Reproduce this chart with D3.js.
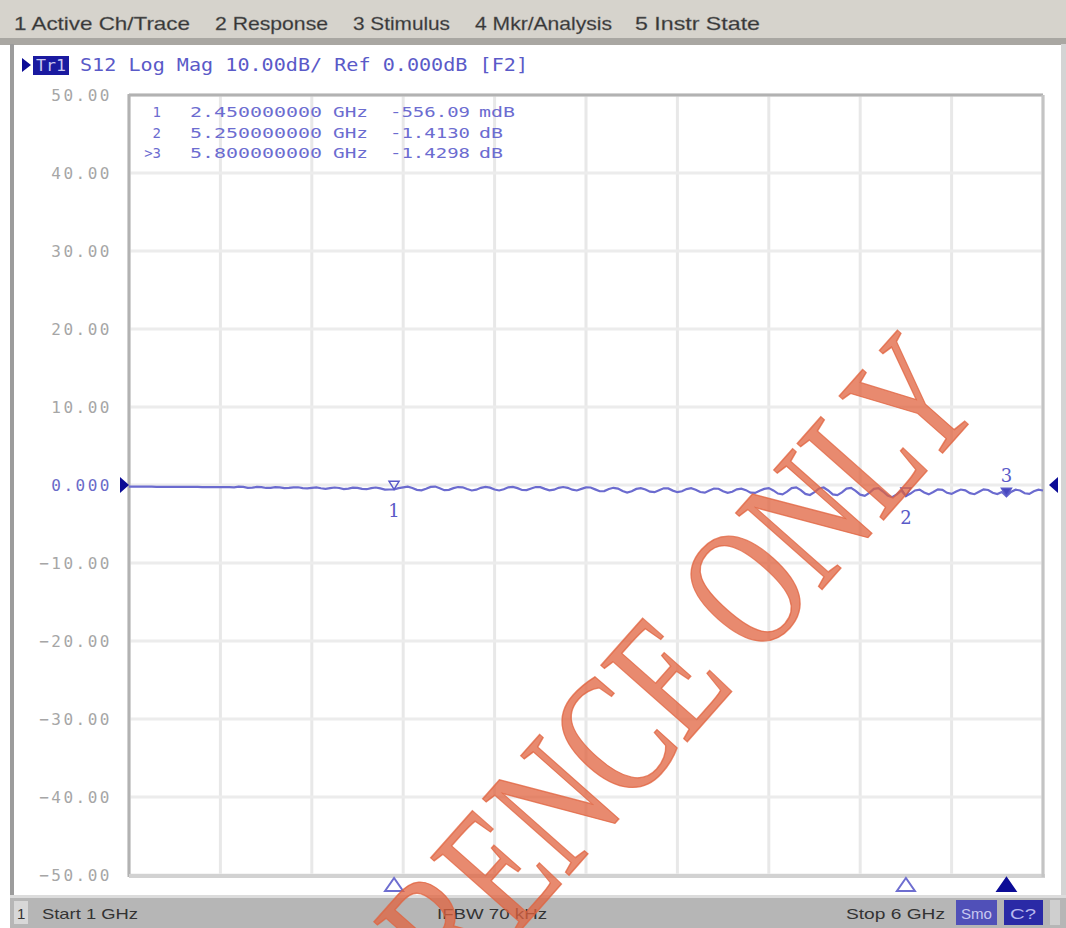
<!DOCTYPE html>
<html>
<head>
<meta charset="utf-8">
<script src="https://cdn.jsdelivr.net/npm/d3@7"></script>
<style>
  body { margin: 0; background: #fff; }
  svg { display: block; }
</style>
</head>
<body>
<script>
// S12 Log Mag, sweep 1 GHz .. 6 GHz, one value every 25 MHz
var sweepStart = 1.0, sweepStep = 0.025;
var s12 = [
  -0.20,-0.21,-0.21,-0.22,-0.22,-0.22,-0.23,-0.23,-0.23,-0.24,-0.24,-0.24,-0.25,-0.25,-0.25,-0.25,-0.26,-0.26,-0.26,-0.27,
  -0.27,-0.28,-0.28,-0.30,-0.22,-0.24,-0.36,-0.33,-0.25,-0.27,-0.38,-0.36,-0.28,-0.30,-0.40,-0.38,-0.30,-0.29,-0.40,-0.44,
  -0.36,-0.30,-0.42,-0.50,-0.40,-0.32,-0.38,-0.52,-0.46,-0.34,-0.36,-0.50,-0.54,-0.40,-0.32,-0.44,-0.60,-0.58,-0.556,-0.40,
  -0.30,-0.22,-0.38,-0.62,-0.68,-0.48,-0.24,-0.20,-0.42,-0.66,-0.62,-0.40,-0.26,-0.30,-0.52,-0.70,-0.60,-0.36,-0.24,-0.34,
  -0.58,-0.70,-0.54,-0.30,-0.24,-0.40,-0.64,-0.66,-0.44,-0.26,-0.28,-0.50,-0.68,-0.60,-0.36,-0.26,-0.36,-0.60,-0.70,-0.50,
  -0.30,-0.32,-0.56,-0.80,-0.78,-0.52,-0.36,-0.46,-0.78,-0.96,-0.80,-0.50,-0.40,-0.58,-0.86,-0.92,-0.66,-0.42,-0.44,-0.72,
  -0.92,-0.80,-0.52,-0.40,-0.60,-0.90,-0.98,-0.72,-0.46,-0.48,-0.80,-1.00,-0.86,-0.56,-0.46,-0.66,-0.98,-1.02,-0.74,-0.50,
  -0.40,-0.70,-1.10,-1.20,-0.86,-0.40,-0.30,-0.66,-1.14,-1.28,-0.92,-0.44,-0.32,-0.70,-1.20,-1.30,-0.94,-0.46,-0.36,-0.76,
  -1.24,-1.40,-1.00,-0.50,-0.40,-0.84,-1.36,-1.56,-1.20,-0.70,-1.413,-1.10,-0.70,-0.60,-0.96,-1.20,-0.90,-0.56,-0.62,-1.00,
  -1.14,-0.84,-0.58,-0.68,-1.04,-1.18,-0.86,-0.56,-0.64,-1.00,-1.16,-0.90,-1.43,-0.90,-0.60,-0.70,-1.06,-1.14,-0.80,-0.60,-0.70
];

var yTicks = [50, 40, 30, 20, 10, 0, -10, -20, -30, -40, -50];
var xTicks = [1, 1.5, 2, 2.5, 3, 3.5, 4, 4.5, 5, 5.5, 6];

// markers
var mkNames = ["1", "2", "3"];
var mkFreqs = [2.45, 5.25, 5.8];
var mkValues = [-0.556, -1.413, -1.4298];
var mkFreqText = ["2.450000000", "5.250000000", "5.800000000"];
var mkValText = ["-556.09", "-1.4130", "-1.4298"];
var mkUnitText = ["mdB", "dB", "dB"];
var activeMarker = 2;

var menuItems = ["1 Active Ch/Trace", "2 Response", "3 Stimulus", "4 Mkr/Analysis", "5 Instr State"];
var menuX = [14, 215, 353, 475, 635];
var menuW = [176, 113, 97, 137, 125];

var width = 1066, height = 928;
var plot = {left: 129, right: 1043, top: 95, bottom: 875};

var traceColor = "#6b6bcf";
var navy = "#0c0c96";

var svg = d3.select("body").append("svg")
  .attr("width", width)
  .attr("height", height);

var x = d3.scaleLinear().domain([1, 6]).range([plot.left, plot.right]);
var y = d3.scaleLinear().domain([-50, 50]).range([plot.bottom, plot.top]);

// menu bar
svg.append("rect").attr("x", 0).attr("y", 0).attr("width", width).attr("height", 41).attr("fill", "#d6d3cc");
svg.append("rect").attr("x", 0).attr("y", 38).attr("width", width).attr("height", 7).attr("fill", "#a9a7a2");
svg.selectAll("text.menu")
  .data(menuItems)
  .enter().append("text")
    .attr("class", "menu")
    .attr("x", function(d, i) { return menuX[i]; })
    .attr("y", 30)
    .attr("textLength", function(d, i) { return menuW[i]; })
    .attr("lengthAdjust", "spacingAndGlyphs")
    .attr("font-family", "Liberation Sans, Arial, sans-serif")
    .attr("font-size", 19)
    .attr("fill", "#353535")
    .attr("stroke", "#6a6a6a").attr("stroke-width", 0.3)
    .text(function(d) { return d; });

// channel window borders
svg.append("rect").attr("x", 10).attr("y", 44).attr("width", 4).attr("height", 860).attr("fill", "#9c9c9c");
svg.append("rect").attr("x", 1061).attr("y", 44).attr("width", 5).attr("height", 860).attr("fill", "#d4d4d4");

// title line
svg.append("path")
  .attr("d", "M22,58 L31,65 L22,72 Z")
  .attr("fill", navy);
svg.append("rect").attr("x", 33).attr("y", 56).attr("width", 36).attr("height", 19).attr("fill", "#1a1aa0");
svg.append("text")
  .attr("x", 36).attr("y", 71)
  .attr("textLength", 30).attr("lengthAdjust", "spacingAndGlyphs")
  .attr("font-family", "DejaVu Sans Mono, monospace").attr("font-size", 16)
  .attr("fill", "#c8c8f0")
  .text("Tr1");
svg.append("text")
  .attr("x", 80).attr("y", 71)
  .attr("textLength", 448).attr("lengthAdjust", "spacingAndGlyphs")
  .attr("font-family", "DejaVu Sans Mono, monospace").attr("font-size", 17)
  .attr("fill", "#5a5ac8")
  .text("S12 Log Mag 10.00dB/ Ref 0.000dB [F2]");

// grid
svg.selectAll("line.vgrid")
  .data(xTicks)
  .enter().append("line")
    .attr("class", "vgrid")
    .attr("x1", function(d) { return x(d); })
    .attr("x2", function(d) { return x(d); })
    .attr("y1", plot.top).attr("y2", plot.bottom)
    .attr("stroke", "#e8e8e8").attr("stroke-width", 3);

svg.selectAll("line.hgrid")
  .data(yTicks)
  .enter().append("line")
    .attr("class", "hgrid")
    .attr("x1", plot.left).attr("x2", plot.right)
    .attr("y1", function(d) { return y(d); })
    .attr("y2", function(d) { return y(d); })
    .attr("stroke", "#ececec").attr("stroke-width", 3);

// frame
svg.append("line").attr("x1", plot.left).attr("x2", plot.left).attr("y1", plot.top - 1).attr("y2", plot.bottom + 2)
  .attr("stroke", "#b2b2b2").attr("stroke-width", 3);
svg.append("line").attr("x1", plot.left).attr("x2", plot.right).attr("y1", plot.top).attr("y2", plot.top)
  .attr("stroke", "#b2b2b2").attr("stroke-width", 3);
svg.append("line").attr("x1", plot.left).attr("x2", plot.right + 2).attr("y1", plot.bottom + 1).attr("y2", plot.bottom + 1)
  .attr("stroke", "#d2d2d2").attr("stroke-width", 4);
svg.append("line").attr("x1", plot.right).attr("x2", plot.right).attr("y1", plot.top).attr("y2", plot.bottom + 2)
  .attr("stroke", "#c4c4c4").attr("stroke-width", 3);

// y tick labels
svg.selectAll("text.ylab")
  .data(yTicks)
  .enter().append("text")
    .attr("class", "ylab")
    .attr("x", 112)
    .attr("y", function(d) { return y(d) + 6; })
    .attr("text-anchor", "end")
    .attr("font-family", "DejaVu Sans Mono, monospace")
    .attr("font-size", 16)
    .attr("letter-spacing", 2.5)
    .attr("fill", function(d) { return d === 0 ? "#6a6ac8" : "#a6a6a6"; })
    .text(function(d) { return d === 0 ? "0.000" : d3.format(".2f")(d); });

// reference level arrows
svg.append("path")
  .attr("d", "M120," + (y(0) - 8) + " L129," + y(0) + " L120," + (y(0) + 8) + " Z")
  .attr("fill", navy);
svg.append("path")
  .attr("d", "M1058," + (y(0) - 8) + " L1049," + y(0) + " L1058," + (y(0) + 8) + " Z")
  .attr("fill", navy);

// marker readout
var rows = svg.append("g").attr("font-family", "DejaVu Sans Mono, monospace").attr("font-size", 14).attr("fill", "#6c6cd0");
mkNames.forEach(function(n, i) {
  var ry = 117 + i * 20.5;
  rows.append("text").attr("x", 161).attr("y", ry).attr("text-anchor", "end")
    .text((i === activeMarker ? ">" : "") + n);
  rows.append("text").attr("x", 190).attr("y", ry)
    .attr("textLength", 132).attr("lengthAdjust", "spacingAndGlyphs").text(mkFreqText[i]);
  rows.append("text").attr("x", 333).attr("y", ry)
    .attr("textLength", 35).attr("lengthAdjust", "spacingAndGlyphs").text("GHz");
  rows.append("text").attr("x", 390).attr("y", ry)
    .attr("textLength", 80).attr("lengthAdjust", "spacingAndGlyphs").text(mkValText[i]);
  rows.append("text").attr("x", 479).attr("y", ry)
    .attr("textLength", mkUnitText[i].length * 12).attr("lengthAdjust", "spacingAndGlyphs").text(mkUnitText[i]);
});

// trace
var traceData = s12.map(function(v, i) { return {f: sweepStart + i * sweepStep, v: v}; });
var line = d3.line()
  .x(function(d) { return x(d.f); })
  .y(function(d) { return y(d.v); });
svg.append("path")
  .datum(traceData)
  .attr("d", line)
  .attr("fill", "none")
  .attr("stroke", traceColor)
  .attr("stroke-width", 2.2);

// markers on trace
mkNames.forEach(function(n, i) {
  var mx = x(mkFreqs[i]), my = y(mkValues[i]);
  svg.append("path")
    .attr("d", "M" + mx + "," + my + " L" + (mx - 5) + "," + (my - 8) + " L" + (mx + 5) + "," + (my - 8) + " Z")
    .attr("fill", i === activeMarker ? "#4848c0" : "none")
    .attr("stroke", "#5858c8").attr("stroke-width", 1.5);
  svg.append("text")
    .attr("x", mx).attr("y", i === activeMarker ? my - 14 : my + 28)
    .attr("text-anchor", "middle")
    .attr("font-family", "DejaVu Serif, serif").attr("font-size", 18)
    .attr("fill", "#5a5ac8")
    .text(n);
});

// stimulus markers under the grid
mkNames.forEach(function(n, i) {
  var mx = x(mkFreqs[i]);
  svg.append("path")
    .attr("d", "M" + mx + ",878 L" + (mx - 9) + ",891 L" + (mx + 9) + ",891 Z")
    .attr("fill", i === activeMarker ? navy : "#ffffff")
    .attr("stroke", i === activeMarker ? navy : "#6e6ed0")
    .attr("stroke-width", 2);
});

// status bar
svg.append("rect").attr("x", 10).attr("y", 897).attr("width", width - 10).attr("height", 31).attr("fill", "#b6b6b6");
svg.append("rect").attr("x", 10).attr("y", 895).attr("width", width - 10).attr("height", 3).attr("fill", "#dcdcdc");
svg.append("rect").attr("x", 14).attr("y", 901).attr("width", 14).attr("height", 23).attr("fill", "#d8d8d8");
var statusG = svg.append("g").attr("font-family", "Liberation Sans, Arial, sans-serif").attr("font-size", 15).attr("fill", "#333");
statusG.append("text").attr("x", 17).attr("y", 919).text("1");
statusG.append("text").attr("x", 42).attr("y", 919).attr("textLength", 96).attr("lengthAdjust", "spacingAndGlyphs").text("Start 1 GHz");
statusG.append("text").attr("x", 437).attr("y", 919).attr("textLength", 110).attr("lengthAdjust", "spacingAndGlyphs").text("IFBW 70 kHz");
statusG.append("text").attr("x", 846).attr("y", 919).attr("textLength", 99).attr("lengthAdjust", "spacingAndGlyphs").text("Stop 6 GHz");
svg.append("rect").attr("x", 956).attr("y", 900).attr("width", 41).attr("height", 25).attr("fill", "#5050b8");
svg.append("rect").attr("x", 1004).attr("y", 900).attr("width", 39).attr("height", 25).attr("fill", "#2a2aa6");
svg.append("text").attr("x", 961).attr("y", 919).attr("textLength", 31).attr("lengthAdjust", "spacingAndGlyphs")
  .attr("font-family", "Liberation Sans, Arial, sans-serif").attr("font-size", 15).attr("fill", "#c8c8f0").text("Smo");
svg.append("text").attr("x", 1010).attr("y", 919).attr("textLength", 26).attr("lengthAdjust", "spacingAndGlyphs")
  .attr("font-family", "Liberation Sans, Arial, sans-serif").attr("font-size", 15).attr("fill", "#b8b8ee").text("C?");
svg.append("rect").attr("x", 1050).attr("y", 900).attr("width", 10).attr("height", 25).attr("fill", "#cfcfcf");

// watermark
svg.append("text")
  .attr("transform", "translate(986,404) rotate(-48.5) scale(0.73,1)")
  .attr("text-anchor", "end")
  .attr("font-family", "Liberation Serif, Times New Roman, serif")
  .attr("font-size", 176)
  .attr("fill", "#e0633f")
  .attr("fill-opacity", 0.75)
  .attr("stroke", "#e0633f")
  .attr("stroke-opacity", 0.75)
  .attr("stroke-width", 1.5)
  .text("REFERENCE ONLY");
</script>
</body>
</html>
